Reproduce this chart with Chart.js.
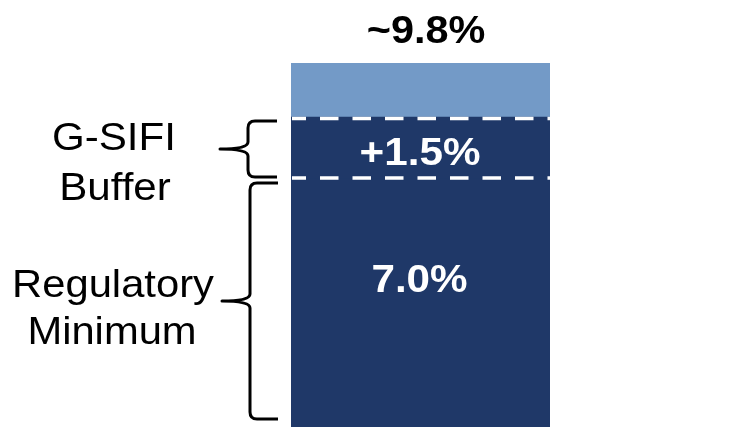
<!DOCTYPE html>
<html>
<head>
<meta charset="utf-8">
<script src="https://cdn.jsdelivr.net/npm/chart.js@4"></script>
<style>
html,body{margin:0;padding:0;background:#fff;}
#wrap{width:736px;height:427px;position:relative;}
</style>
</head>
<body>
<div id="wrap"><canvas id="c" width="736" height="427"></canvas></div>
<script>
// Data
const categories = ["Capital"];
const segmentNames = ["Regulatory Minimum", "G-SIFI Buffer", "Additional"];
const minimumValues = [7.0];
const bufferValues = [1.5];
const additionalValues = [1.3];
const segmentLabels = ["7.0%", "+1.5%", ""];
const totalLabel = "~9.8%";
const sideLabels = [["G-SIFI", "Buffer"], ["Regulatory", "Minimum"]];

const DARK = "#1f3868";
const LIGHT = "#739ac7";
const FONT = "'Liberation Sans', Arial, sans-serif";

const annot = {
  id: "annot",
  afterDatasetsDraw(chart) {
    const ctx = chart.ctx;
    const y = chart.scales.y;
    const ca = chart.chartArea;
    const b0 = minimumValues[0];
    const b1 = b0 + bufferValues[0];
    const tot = b1 + additionalValues[0];
    const y0 = y.getPixelForValue(b0);
    const y1 = y.getPixelForValue(b1);
    const yt = y.getPixelForValue(tot);
    ctx.save();
    // dashed boundaries
    ctx.strokeStyle = "#ffffff";
    ctx.lineWidth = 3.5;
    ctx.setLineDash([18.5, 14]);
    ctx.lineDashOffset = 4.5;
    [y1 + 1.5, y0 - 1].forEach(py => {
      ctx.beginPath();
      ctx.moveTo(ca.left + 1, py);
      ctx.lineTo(ca.right, py);
      ctx.stroke();
    });
    ctx.setLineDash([]);
    function txt(s, x, py, sx) {
      ctx.save();
      ctx.translate(x, py);
      ctx.scale(sx, 1);
      ctx.fillText(s, 0, 0);
      ctx.restore();
    }
    // segment labels
    ctx.fillStyle = "#ffffff";
    ctx.textAlign = "center";
    ctx.textBaseline = "alphabetic";
    ctx.font = "bold 38px " + FONT;
    const cx = (ca.left + ca.right) / 2;
    txt(segmentLabels[1], cx - 0.5, 165, 1.11);
    txt(segmentLabels[0], cx - 1, 292, 1.11);
    ctx.fillStyle = "#000000";
    txt(totalLabel, cx + 5.5, 43, 1.09);
    // side labels
    ctx.font = "39px " + FONT;
    txt(sideLabels[0][0], 114, 150, 1.08);
    txt(sideLabels[0][1], 115, 200, 1.08);
    txt(sideLabels[1][0], 113, 297, 1.07);
    txt(sideLabels[1][1], 112, 344, 1.07);
    // braces
    function brace(xr, xv, xt, top, bot) {
      const mid = (top + bot) / 2;
      const r = 7;
      ctx.beginPath();
      ctx.moveTo(xr, top);
      ctx.lineTo(xv + r, top);
      ctx.quadraticCurveTo(xv, top, xv, top + r);
      ctx.lineTo(xv, mid - r);
      ctx.quadraticCurveTo(xv, mid, xt, mid);
      ctx.quadraticCurveTo(xv, mid, xv, mid + r);
      ctx.lineTo(xv, bot - r);
      ctx.quadraticCurveTo(xv, bot, xv + r, bot);
      ctx.lineTo(xr, bot);
      ctx.stroke();
    }
    ctx.strokeStyle = "#000000";
    ctx.lineWidth = 3;
    ctx.lineJoin = "round";
    brace(277, 248, 220, y1 + 4, y0 - 2);
    brace(278, 250, 222, y0 + 4, ca.bottom - 8);
    ctx.restore();
  }
};

new Chart(document.getElementById("c"), {
  type: "bar",
  data: {
    labels: categories,
    datasets: [
      { label: segmentNames[0], data: minimumValues, backgroundColor: DARK },
      { label: segmentNames[1], data: bufferValues, backgroundColor: DARK },
      { label: segmentNames[2], data: additionalValues, backgroundColor: LIGHT }
    ]
  },
  options: {
    responsive: false,
    animation: false,
    devicePixelRatio: 1,
    layout: { padding: { left: 291, right: 186, top: 0, bottom: 0 } },
    datasets: { bar: { barPercentage: 1, categoryPercentage: 1, borderWidth: 0 } },
    plugins: { legend: { display: false }, tooltip: { enabled: false } },
    scales: {
      x: { stacked: true, display: false },
      y: { stacked: true, display: false, min: 1.0, max: 11.33 }
    }
  },
  plugins: [annot]
});
</script>
</body>
</html>
